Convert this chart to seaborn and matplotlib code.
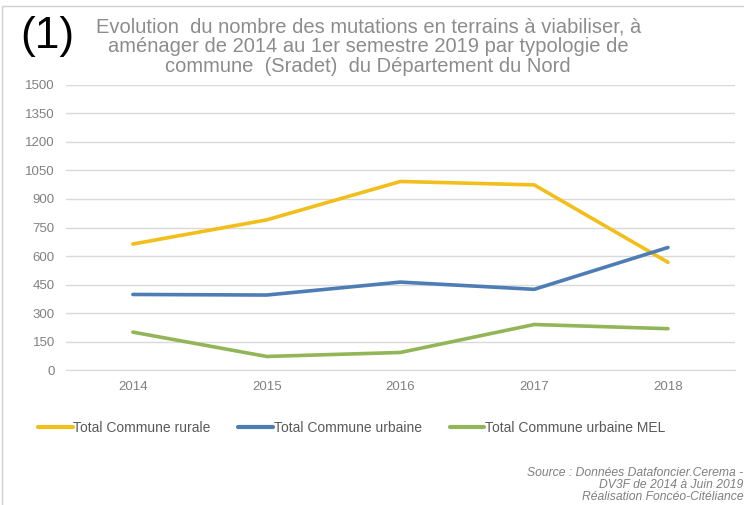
import numpy as np
import pandas as pd
import seaborn as sns
import matplotlib.pyplot as plt
from matplotlib.patches import Rectangle

# ==========================
# DONNÉES
# ==========================

annees = ["2014", "2015", "2016", "2017", "2018"]
series = ["Total Commune rurale", "Total Commune urbaine", "Total Commune urbaine MEL"]
rurale = [663, 790, 992, 974, 567]
urbaine = [398, 395, 463, 425, 645]
urbaine_mel = [200, 72, 93, 240, 218]
couleurs = ["#F2BE1A", "#4E7DB5", "#92B557"]
y_ticks = [0, 150, 300, 450, 600, 750, 900, 1050, 1200, 1350, 1500]

df = pd.DataFrame({
    "annee": annees * 3,
    "valeur": rurale + urbaine + urbaine_mel,
    "serie": [series[0]] * 5 + [series[1]] * 5 + [series[2]] * 5,
})

# ==========================
# FIGURE
# ==========================

sns.set_style("white")
plt.rcParams["font.family"] = ["Liberation Sans", "DejaVu Sans"]

fig = plt.figure(figsize=(7.44, 5.05), dpi=100)
ax = fig.add_axes([0.0887, 0.267, 0.899, 0.565])

sns.lineplot(data=df, x="annee", y="valeur", hue="serie", palette=couleurs,
             linewidth=2.6, ax=ax, legend=False, sort=False)

ax.set_xlim(-0.5, 4.5)
ax.set_ylim(0, 1500)
ax.set_yticks(y_ticks)
ax.set_yticklabels([str(v) for v in y_ticks])
ax.grid(axis="y", color="#d9d9d9", linewidth=1)
ax.set_axisbelow(True)
for s in ax.spines.values():
    s.set_visible(False)
ax.spines["bottom"].set_visible(True)
ax.spines["bottom"].set_color("#d9d9d9")
ax.tick_params(axis="both", length=0, colors="#808080", labelsize=9.5, pad=8)
ax.set_xlabel("")
ax.set_ylabel("")

# légende
handles = [plt.Line2D([], [], color=c, linewidth=3) for c in couleurs]
fig.legend(handles, series, loc="center left", bbox_to_anchor=(0.034, 0.152),
           ncol=3, frameon=False, handlelength=2.5, handletextpad=0.05,
           columnspacing=2.0, fontsize=10, labelcolor="#595959")

# titres
fig.text(0.495, 0.965,
         "Evolution  du nombre des mutations en terrains à viabiliser, à\n"
         "aménager de 2014 au 1er semestre 2019 par typologie de\n"
         "commune  (Sradet)  du Département du Nord",
         ha="center", va="top", fontsize=14.5, color="#8c8c8c", linespacing=1.05)
fig.text(0.027, 0.927, "(1)", ha="left", va="center", fontsize=32, color="black")

fig.text(0.999, 0.075,
         "Source : Données Datafoncier.Cerema -\nDV3F de 2014 à Juin 2019\nRéalisation Foncéo-Citéliance",
         ha="right", va="top", fontsize=8.7, style="italic", color="#7f7f7f",
         linespacing=1.0)

# cadre
fig.patches.append(Rectangle((0.003, -0.01), 1.2, 0.998, transform=fig.transFigure,
                             fill=False, edgecolor="#d0d0d0", linewidth=1))

fig.savefig("out.png", dpi=100)
